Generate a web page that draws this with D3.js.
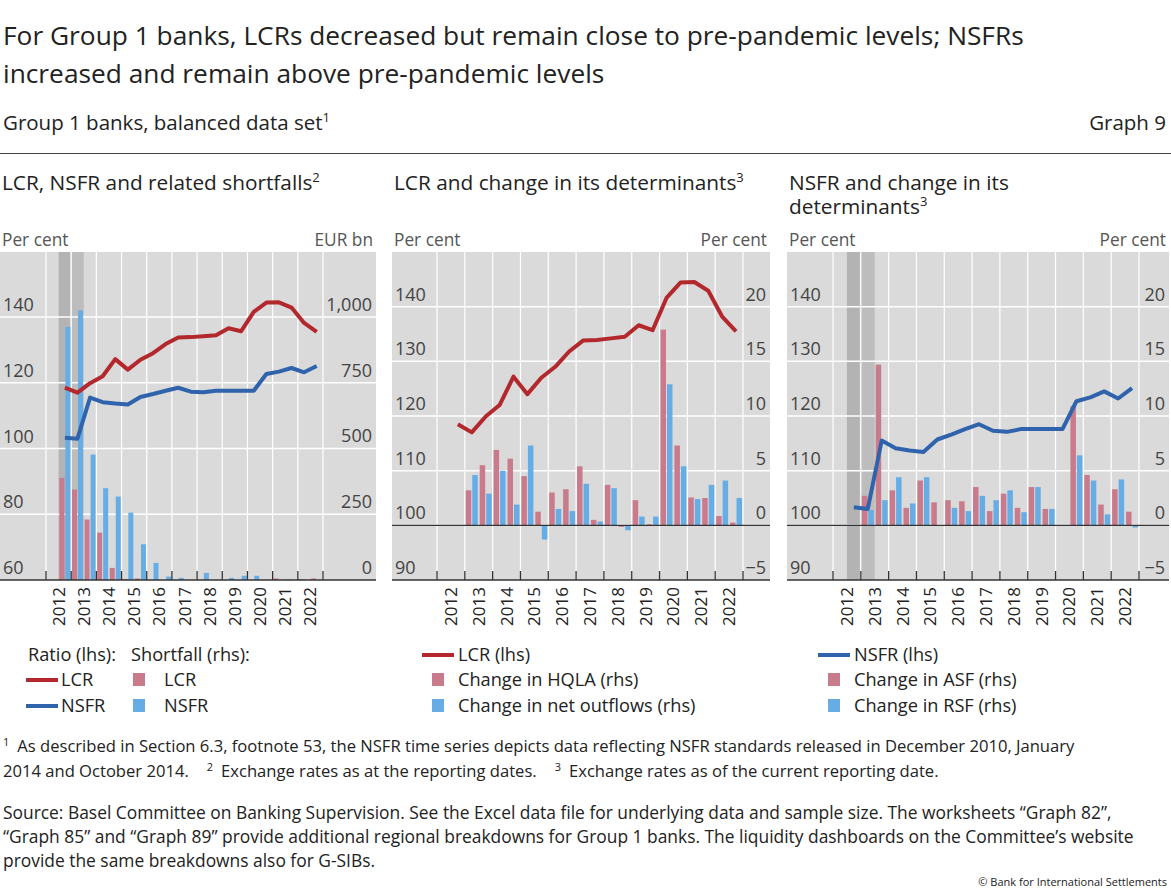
<!DOCTYPE html>
<html><head><meta charset="utf-8">
<script src="https://cdn.jsdelivr.net/npm/d3@7"></script>
<style>body{margin:0;background:#fff;font-family:"Open Sans","Noto Sans",sans-serif;}</style>
</head><body><svg id="c" width="1171" height="891"></svg>
<script>
const periods = ["2012H2","2013H1","2013H2","2014H1","2014H2","2015H1","2015H2","2016H1","2016H2","2017H1","2017H2","2018H1","2018H2","2019H1","2019H2","2020H1","2020H2","2021H1","2021H2","2022H1","2022H2"];
const years = [2012,2013,2014,2015,2016,2017,2018,2019,2020,2021,2022];
const lcr = [118.5,117.0,119.9,122.0,127.2,124.0,127.0,129.0,131.8,133.8,133.9,134.2,134.5,136.6,135.7,141.6,144.4,144.5,142.9,138.2,135.5];
const nsfr = [103.3,103.0,115.5,114.1,113.7,113.4,115.7,116.6,117.6,118.5,117.3,117.1,117.6,117.6,117.6,117.6,122.7,123.4,124.5,123.2,125.1];
const lcrShortfall = [388,344,230,180,46,4,6,0,0,0,0,0,0,0,0,0,0,6,2,3,6];
const nsfrShortfall = [962,1025,477,349,317,256,136,65,13,8,0,27,0,8,16,16,0,0,0,0,0];
const chgHQLA = [null,3.2,5.5,6.9,6.1,4.5,1.25,3.0,3.3,5.4,0.5,3.7,-0.15,2.3,0.1,17.9,7.3,2.55,2.5,0.85,0.25];
const chgOutflows = [null,4.6,2.9,5.0,1.9,7.3,-1.3,1.5,1.3,3.8,0.35,3.4,-0.45,0.8,0.8,12.9,5.4,2.4,3.7,4.1,2.5];
const chgASF = [null,2.7,14.7,3.2,1.6,4.1,2.1,2.3,2.2,3.5,1.3,2.9,1.6,3.5,1.5,0,10.9,4.6,1.9,3.3,1.25];
const chgRSF = [null,1.4,2.3,4.4,2.0,4.4,0,1.6,1.3,2.7,2.3,3.2,1.2,3.5,1.5,0,6.4,4.1,1.0,4.2,-0.2];
const leftTicks1 = [60,80,100,120,140], rightTicks1 = [0,250,500,750,1000];
const leftTicks2 = [90,100,110,120,130,140], rightTicks2 = [-5,0,5,10,15,20];

const RED="#b3282d", BLUE="#2f64ad", PINK="#c97a8b", LBLUE="#66ade6", BG="#dadada", TXT="#222", GREY="#555";
const svg = d3.select("#c");
const tnum = p => +p.slice(0,4) + (p.endsWith("H1") ? 0.25 : 0.75);

svg.append("text").attr("x",3).attr("y",45).attr("font-size",26.3).attr("fill",TXT).text("For Group 1 banks, LCRs decreased but remain close to pre-pandemic levels; NSFRs");
svg.append("text").attr("x",3).attr("y",83).attr("font-size",26.3).attr("fill",TXT).text("increased and remain above pre-pandemic levels");
const st = svg.append("text").attr("x",3).attr("y",130).attr("font-size",20.5).attr("fill",TXT).text("Group 1 banks, balanced data set");
st.append("tspan").attr("dy",-8).attr("font-size",13).text("1");
svg.append("text").attr("x",1166).attr("y",130).attr("font-size",20.5).attr("fill",TXT).attr("text-anchor","end").text("Graph 9");
svg.append("line").attr("x1",0).attr("x2",1171).attr("y1",153.5).attr("y2",153.5).attr("stroke","#444");

function panel(o){
  const g = svg.append("g");
  o.title.forEach((t,i)=>{
    const tx = g.append("text").attr("x",o.x0+2).attr("y",190+i*24).attr("font-size",20.8).attr("fill",TXT).text(t[0]);
    if(t[1]) tx.append("tspan").attr("dy",-8).attr("font-size",13).text(t[1]);
  });
  g.append("text").attr("x",o.x0+2).attr("y",246).attr("font-size",17.3).attr("fill",GREY).text("Per cent");
  g.append("text").attr("x",o.x1-3).attr("y",246).attr("font-size",17.3).attr("fill",GREY).attr("text-anchor","end").text(o.rUnit);
  const top=252,bot=580;
  const x = d3.scaleLinear().domain([2012,2023]).range(o.tick);
  const yl = d3.scaleLinear().domain(o.ld).range([bot,top]);
  const yr = d3.scaleLinear().domain(o.rd).range([bot,top]);
  g.append("rect").attr("x",o.x0).attr("y",top).attr("width",o.x1-o.x0).attr("height",bot-top).attr("fill",BG);
  if(o.shade){
    g.append("rect").attr("x",x(2012.5)).attr("y",top).attr("width",x(2013)-x(2012.5)-1).attr("height",bot-top).attr("fill","#b3b3b3");
    g.append("rect").attr("x",x(2013)).attr("y",top).attr("width",x(2013.5)-x(2013)).attr("height",bot-top).attr("fill","#bdbdbd");
  }
  d3.range(2012,2024).forEach(yv=>g.append("line").attr("x1",x(yv)).attr("x2",x(yv)).attr("y1",top).attr("y2",bot).attr("stroke","#fff").attr("stroke-width",1.2));
  o.lt.forEach(v=>{ if(v!==o.ld[0]) g.append("line").attr("x1",o.x0).attr("x2",o.x1).attr("y1",yl(v)).attr("y2",yl(v)).attr("stroke","#fff").attr("stroke-width",1.5);});
  o.lt.forEach(v=>g.append("text").attr("x",o.x0+3).attr("y",yl(v)-6).attr("font-size",18).attr("fill","#444").text(v));
  o.rt.forEach(v=>g.append("text").attr("x",o.x1-4).attr("y",yr(v)-6).attr("font-size",18).attr("fill","#444").attr("text-anchor","end").text(d3.format(",")(v).replace("-","\u2212")));
  const bw = o.bw;
  o.bars.forEach((b,bi)=>{
    b.data.forEach((v,i)=>{
      if(v===null||v===0) return;
      const cx = x(tnum(periods[i])) + (bi===0?-bw-0.5:0.5);
      const y0 = yr(0), y1 = yr(v);
      g.append("rect").attr("x",cx).attr("y",Math.min(y0,y1)).attr("width",bw).attr("height",Math.abs(y1-y0)).attr("fill",b.c);
    });
  });
  if(o.zero) g.append("line").attr("x1",o.x0).attr("x2",o.x1).attr("y1",yr(0)).attr("y2",yr(0)).attr("stroke","#333").attr("stroke-width",1.3);
  o.lines.forEach(l=>{
    g.append("path").datum(l.data).attr("fill","none").attr("stroke",l.c).attr("stroke-width",4).attr("stroke-linejoin","round")
     .attr("d",d3.line().x((d,i)=>x(tnum(periods[i]))).y(d=>yl(d)));
  });
  g.append("line").attr("x1",o.x0).attr("x2",o.x1).attr("y1",bot).attr("y2",bot).attr("stroke","#333").attr("stroke-width",1.3);
  d3.range(2012,2024).forEach(yv=>g.append("line").attr("x1",x(yv)).attr("x2",x(yv)).attr("y1",bot-9).attr("y2",bot).attr("stroke","#333").attr("stroke-width",1.3));
  years.forEach(yv=>g.append("text").attr("transform",`translate(${x(yv+0.5)+6},587) rotate(-90)`).attr("text-anchor","end").attr("font-size",17).attr("fill",TXT).text(yv));
  return g;
}

panel({x0:0,x1:376,tick:[46,323],title:[["LCR, NSFR and related shortfalls","2"]],rUnit:"EUR bn",ld:[60,159.8],rd:[0,1247],lt:leftTicks1,rt:rightTicks1,bw:5,shade:true,zero:false,
  bars:[{data:lcrShortfall,c:PINK},{data:nsfrShortfall,c:LBLUE}],lines:[{data:lcr,c:RED},{data:nsfr,c:BLUE}]});
panel({x0:392,x1:770,tick:[437,743],title:[["LCR and change in its determinants","3"]],rUnit:"Per cent",ld:[90,150],rd:[-5,25],lt:leftTicks2,rt:rightTicks2,bw:5.5,shade:false,zero:true,
  bars:[{data:chgHQLA,c:PINK},{data:chgOutflows,c:LBLUE}],lines:[{data:lcr,c:RED}]});
panel({x0:787,x1:1169,tick:[833,1139],title:[["NSFR and change in its"],["determinants","3"]],rUnit:"Per cent",ld:[90,150],rd:[-5,25],lt:leftTicks2,rt:rightTicks2,bw:5.5,shade:true,zero:true,
  bars:[{data:chgASF,c:PINK},{data:chgRSF,c:LBLUE}],lines:[{data:nsfr,c:BLUE}]});

function lline(x,y,c,t,tx){svg.append("line").attr("x1",x).attr("x2",x+32).attr("y1",y).attr("y2",y).attr("stroke",c).attr("stroke-width",4);
  svg.append("text").attr("x",tx).attr("y",y+6).attr("font-size",18.2).attr("fill",TXT).text(t);}
function lbox(x,y,c,t,tx){svg.append("rect").attr("x",x).attr("y",y-7).attr("width",12).attr("height",13).attr("fill",c);
  svg.append("text").attr("x",tx).attr("y",y+6).attr("font-size",18.2).attr("fill",TXT).text(t);}
svg.append("text").attr("x",28).attr("y",661).attr("font-size",18.2).attr("fill",TXT).text("Ratio (lhs):");
svg.append("text").attr("x",131).attr("y",661).attr("font-size",18.2).attr("fill",TXT).text("Shortfall (rhs):");
lline(26,680,RED,"LCR",61); lline(26,706,BLUE,"NSFR",61);
lbox(133,680,PINK,"LCR",164); lbox(133,706,LBLUE,"NSFR",164);
lline(422,655,RED,"LCR (lhs)",458); lbox(432,680,PINK,"Change in HQLA (rhs)",458); lbox(432,706,LBLUE,"Change in net outflows (rhs)",458);
lline(818,655,BLUE,"NSFR (lhs)",854); lbox(828,680,PINK,"Change in ASF (rhs)",854); lbox(828,706,LBLUE,"Change in RSF (rhs)",854);

const FS=16.6;
const f1 = svg.append("text").attr("x",3).attr("y",752).attr("font-size",FS).attr("fill",TXT);
f1.append("tspan").attr("font-size",11).attr("dy",-6).text("1");
f1.append("tspan").attr("dy",6).attr("dx",8).text("As described in Section 6.3, footnote 53, the NSFR time series depicts data reflecting NSFR standards released in December 2010, January");
const f2 = svg.append("text").attr("x",3).attr("y",777).attr("font-size",FS).attr("fill",TXT);
f2.append("tspan").text("2014 and October 2014.");
f2.append("tspan").attr("font-size",11).attr("dy",-6).attr("dx",18).text("2");
f2.append("tspan").attr("dy",6).attr("dx",8).text("Exchange rates as at the reporting dates.");
f2.append("tspan").attr("font-size",11).attr("dy",-6).attr("dx",18).text("3");
f2.append("tspan").attr("dy",6).attr("dx",8).text("Exchange rates as of the current reporting date.");
["Source: Basel Committee on Banking Supervision. See the Excel data file for underlying data and sample size. The worksheets \u201cGraph 82\u201d,",
 "\u201cGraph 85\u201d and \u201cGraph 89\u201d provide additional regional breakdowns for Group 1 banks. The liquidity dashboards on the Committee\u2019s website",
 "provide the same breakdowns also for G-SIBs."].forEach((t,i)=>svg.append("text").attr("x",3).attr("y",819+i*24).attr("font-size",FS+0.8).attr("fill",TXT).text(t));
svg.append("text").attr("x",1167).attr("y",886).attr("font-size",11).attr("fill",TXT).attr("text-anchor","end").text("\u00a9 Bank for International Settlements");
</script></body></html>
